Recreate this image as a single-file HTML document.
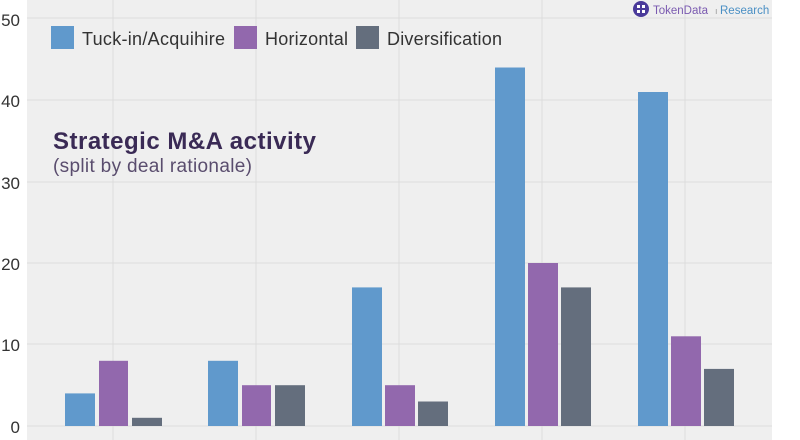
<!DOCTYPE html>
<html><head><style>
body{margin:0;background:#fff;}
</style></head><body>
<svg width="800" height="440" xmlns="http://www.w3.org/2000/svg" style="display:block;font-family:'Liberation Sans',Arial,sans-serif">
<rect x="27" y="0" width="745" height="440" fill="#efefef"/>
<g stroke="#dcdcdc" stroke-width="1">
<line x1="27" x2="772" y1="18" y2="18"/><line x1="27" x2="772" y1="100" y2="100"/>
<line x1="27" x2="772" y1="182" y2="182"/><line x1="27" x2="772" y1="263" y2="263"/>
<line x1="27" x2="772" y1="344" y2="344"/><line x1="27" x2="772" y1="426" y2="426"/>
<line x1="113" x2="113" y1="0" y2="440"/><line x1="256" x2="256" y1="0" y2="440"/>
<line x1="399" x2="399" y1="0" y2="440"/><line x1="542" x2="542" y1="0" y2="440"/>
<line x1="685" x2="685" y1="0" y2="440"/>
</g>
<g font-size="17" fill="#333" text-anchor="end">
<text x="20" y="26">50</text><text x="20" y="107">40</text><text x="20" y="189">30</text>
<text x="20" y="270">20</text><text x="20" y="351">10</text><text x="20" y="433">0</text>
</g>
<g>
<rect x="65" y="393.4" width="30" height="32.6" fill="#6099cc"/>
<rect x="99" y="360.8" width="29" height="65.2" fill="#9268ad"/>
<rect x="132" y="417.8" width="30" height="8.2" fill="#646e7d"/>
<rect x="208" y="360.8" width="30" height="65.2" fill="#6099cc"/>
<rect x="242" y="385.2" width="29" height="40.8" fill="#9268ad"/>
<rect x="275" y="385.2" width="30" height="40.8" fill="#646e7d"/>
<rect x="352" y="287.4" width="30" height="138.6" fill="#6099cc"/>
<rect x="385" y="385.2" width="30" height="40.8" fill="#9268ad"/>
<rect x="418" y="401.5" width="30" height="24.5" fill="#646e7d"/>
<rect x="495" y="67.5" width="30" height="358.5" fill="#6099cc"/>
<rect x="528" y="263" width="30" height="163" fill="#9268ad"/>
<rect x="561" y="287.4" width="30" height="138.6" fill="#646e7d"/>
<rect x="638" y="92" width="30" height="334" fill="#6099cc"/>
<rect x="671" y="336.3" width="30" height="89.7" fill="#9268ad"/>
<rect x="704" y="368.9" width="30" height="57.1" fill="#646e7d"/>
</g>
<rect x="51" y="26" width="23" height="23" fill="#6099cc"/>
<text x="82" y="45" font-size="18" fill="#333" textLength="143">Tuck-in/Acquihire</text>
<rect x="234" y="26" width="23" height="23" fill="#9268ad"/>
<text x="265" y="45" font-size="18" fill="#333" textLength="83">Horizontal</text>
<rect x="356" y="26" width="23" height="23" fill="#646e7d"/>
<text x="387" y="45" font-size="18" fill="#333" textLength="115">Diversification</text>
<text x="53" y="149" font-size="24" font-weight="bold" fill="#3a2a55" textLength="263">Strategic M&amp;A activity</text>
<text x="53" y="172" font-size="19" fill="#5a4d6e" textLength="199">(split by deal rationale)</text>
<circle cx="641" cy="9" r="8" fill="#4a3a9a"/>
<g fill="#fff"><rect x="637" y="5" width="3" height="3"/><rect x="642" y="5" width="3" height="3"/><rect x="637" y="10" width="3" height="3"/><rect x="642" y="10" width="3" height="3"/></g>
<text x="653" y="14" font-size="11.5" fill="#7a5ab0">TokenData</text>
<text x="715" y="14" font-size="9" fill="#999">ı</text>
<text x="720" y="14" font-size="11.5" fill="#4a8fc4">Research</text>
</svg>
</body></html>
